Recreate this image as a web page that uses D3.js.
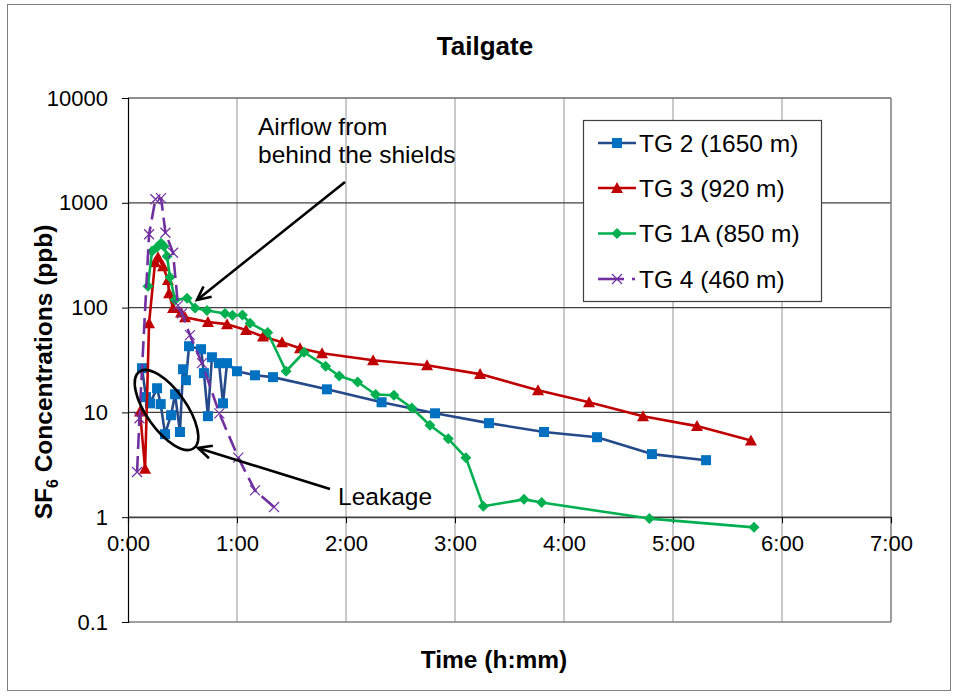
<!DOCTYPE html>
<html>
<head>
<meta charset="utf-8">
<script src="https://cdn.jsdelivr.net/npm/d3@7"></script>
<style>
  body { margin: 0; background: #fff; }
  svg { display: block; font-family: "Liberation Sans", Arial, sans-serif; }
</style>
</head>
<body>
<svg id="chart" width="956" height="696"></svg>
<script>
// ---- Data (time in minutes, concentration in ppb) ----
const tg2Time = [7.7, 9.9, 12.1, 16.0, 18.0, 20.4, 23.7, 25.9, 28.6, 30.3, 31.9, 33.6, 40.2, 41.8, 44.0, 46.2, 50.1, 52.3, 54.5, 60.0, 69.9, 79.8, 109.5, 139.6, 169.0, 198.7, 229.0, 258.2, 288.4, 318.2];
const tg2Value = [26.4, 14.0, 12.2, 17.0, 12.0, 6.2, 9.4, 14.9, 6.5, 25.8, 20.3, 42.8, 40.1, 23.7, 9.2, 33.6, 29.5, 12.2, 29.5, 24.7, 22.6, 21.7, 16.6, 12.5, 9.8, 7.9, 6.5, 5.8, 4.0, 3.5];

const tg3Time = [6.6, 9.4, 11.6, 14.9, 16.5, 19.3, 22.0, 22.6, 24.8, 29.2, 31.4, 44.0, 54.5, 65.0, 74.3, 84.8, 94.7, 106.8, 134.9, 164.6, 193.8, 225.7, 253.8, 283.5, 313.2, 342.9];
const tg3Value = [10.2, 2.9, 71, 271, 303, 248, 183, 137, 99, 90, 81, 73, 69.5, 61, 53, 46.8, 41, 36.7, 31.5, 28.2, 23.2, 16.3, 12.5, 9.2, 7.4, 5.4];

const tg1aTime = [11.0, 13.2, 16.0, 18.2, 19.8, 21.5, 23.1, 25.9, 32.5, 36.9, 43.5, 53.4, 57.5, 63.0, 67.2, 76.9, 87.0, 96.9, 108.8, 116.3, 126.4, 136.3, 146.4, 156.2, 166.2, 176.3, 186.0, 195.6, 218.0, 227.7, 287.0, 344.6];
const tg1aValue = [160, 345, 377, 412, 385, 309, 195, 118, 123, 99, 94, 88, 84.5, 85, 71, 57.8, 24.7, 37.5, 27.6, 22.2, 19.5, 14.8, 14.6, 11.0, 7.55, 5.6, 3.7, 1.27, 1.48, 1.38, 0.97, 0.80];

const tg4Time = [5.0, 6.3, 11.6, 15.1, 18.2, 20.6, 24.8, 27.5, 29.7, 34.1, 40.7, 50.3, 60.7, 69.9, 80.4];
const tg4Value = [2.7, 8.8, 501, 1082, 1107, 518, 334, 105, 88, 54.6, 29.5, 9.8, 3.7, 1.8, 1.25];

const seriesNames = ["TG 2 (1650 m)", "TG 3 (920 m)", "TG 1A (850 m)", "TG 4 (460 m)"];
const xTickValues = [0, 60, 120, 180, 240, 300, 360, 420];
const xTickLabels = ["0:00", "1:00", "2:00", "3:00", "4:00", "5:00", "6:00", "7:00"];
const yTickValues = [0.1, 1, 10, 100, 1000, 10000];
const yTickLabels = ["0.1", "1", "10", "100", "1000", "10000"];

// ---- Layout ----
const svg = d3.select("#chart");
const L = 128, R = 891, T = 98, B = 622;

const x = d3.scaleLinear().domain([0, 420]).range([L, R]);
const y = d3.scaleLog().domain([0.1, 10000]).range([B, T]);

// outer border
svg.append("rect").attr("x", 7.5).attr("y", 4.5).attr("width", 943).attr("height", 686)
  .attr("fill", "#fff").attr("stroke", "#7f7f7f").attr("stroke-width", 1);

// vertical gridlines
svg.append("g").selectAll("line").data(xTickValues.slice(1)).join("line")
  .attr("x1", d => x(d)).attr("x2", d => x(d)).attr("y1", T).attr("y2", B)
  .attr("stroke", "#a6a6a6").attr("stroke-width", 1.2);

// horizontal gridlines
svg.append("g").selectAll("line").data(yTickValues.slice(1)).join("line")
  .attr("x1", L).attr("x2", R).attr("y1", d => y(d)).attr("y2", d => y(d))
  .attr("stroke", "#404040").attr("stroke-width", 1.2);

// plot area frame
svg.append("line").attr("x1", L).attr("x2", R).attr("y1", B).attr("y2", B).attr("stroke", "#808080").attr("stroke-width", 1.5);
svg.append("line").attr("x1", R).attr("x2", R).attr("y1", T).attr("y2", B).attr("stroke", "#808080").attr("stroke-width", 1.2);
svg.append("line").attr("x1", L).attr("x2", R).attr("y1", T).attr("y2", T).attr("stroke", "#808080").attr("stroke-width", 1.2);

// y axis
const yAxis = d3.axisLeft(y).tickValues(yTickValues).tickFormat((d, i) => yTickLabels[i]).tickSize(6).tickPadding(14);
const gy = svg.append("g").attr("transform", `translate(${L},0)`).call(yAxis);
gy.select(".domain").attr("stroke", "#000").attr("stroke-width", 1.2);
gy.selectAll(".tick line").attr("stroke", "#000");
gy.selectAll("text").attr("font-size", 22).attr("fill", "#000").attr("font-family", "Liberation Sans, Arial, sans-serif");

// x axis crossing at y = 1
const xAxis = d3.axisBottom(x).tickValues(xTickValues).tickFormat((d, i) => xTickLabels[i]).tickSize(6).tickPadding(12);
const gx = svg.append("g").attr("transform", `translate(0,${y(1)})`).call(xAxis);
gx.select(".domain").attr("stroke", "#404040").attr("stroke-width", 1.2);
gx.selectAll(".tick line").attr("stroke", "#000");
gx.selectAll("text").attr("font-size", 22).attr("fill", "#000").attr("font-family", "Liberation Sans, Arial, sans-serif");

// ---- Series ----
function makeData(t, v) { return t.map((d, i) => ({ t: d, v: v[i] })); }
const line = d3.line().x(d => x(d.t)).y(d => y(d.v));

const series = [
  { name: seriesNames[0], data: makeData(tg2Time, tg2Value), line: "#254A8A", marker: "#0070C0", shape: "square", dash: null },
  { name: seriesNames[1], data: makeData(tg3Time, tg3Value), line: "#C00000", marker: "#C00000", shape: "triangle", dash: null },
  { name: seriesNames[2], data: makeData(tg1aTime, tg1aValue), line: "#00B050", marker: "#00B050", shape: "diamond", dash: null },
  { name: seriesNames[3], data: makeData(tg4Time, tg4Value), line: "#7030A0", marker: "#7030A0", shape: "x", dash: "16,7" }
];

function drawMarker(g, shape, color, cx, cy) {
  if (shape === "square") {
    g.append("rect").attr("x", cx - 5).attr("y", cy - 5).attr("width", 10).attr("height", 10).attr("fill", color);
  } else if (shape === "triangle") {
    g.append("path").attr("d", `M${cx},${cy - 6}L${cx + 6},${cy + 5}L${cx - 6},${cy + 5}Z`).attr("fill", color);
  } else if (shape === "diamond") {
    g.append("path").attr("d", `M${cx},${cy - 5.5}L${cx + 5.5},${cy}L${cx},${cy + 5.5}L${cx - 5.5},${cy}Z`).attr("fill", color);
  } else if (shape === "x") {
    g.append("path").attr("d", `M${cx - 5},${cy - 5}L${cx + 5},${cy + 5}M${cx - 5},${cy + 5}L${cx + 5},${cy - 5}`)
      .attr("stroke", color).attr("stroke-width", 1.2).attr("fill", "none");
  }
}

series.forEach(s => {
  const g = svg.append("g");
  g.append("path").datum(s.data).attr("d", line).attr("fill", "none")
    .attr("stroke", s.line).attr("stroke-width", 2.6)
    .attr("stroke-dasharray", s.dash).attr("stroke-linejoin", "round");
  s.data.forEach(d => drawMarker(g, s.shape, s.marker, x(d.t), y(d.v)));
});

// ---- Legend ----
const lg = svg.append("g");
lg.append("rect").attr("x", 583.5).attr("y", 120.5).attr("width", 238).attr("height", 181)
  .attr("fill", "#fff").attr("stroke", "#404040").attr("stroke-width", 1.2);
const legendY = [143, 188, 233.5, 279];
series.forEach((s, i) => {
  const yy = legendY[i];
  if (s.dash) {
    lg.append("line").attr("x1", 598).attr("x2", 624).attr("y1", yy).attr("y2", yy)
      .attr("stroke", s.line).attr("stroke-width", 2.6);
    lg.append("line").attr("x1", 632).attr("x2", 635).attr("y1", yy).attr("y2", yy)
      .attr("stroke", s.line).attr("stroke-width", 2.6);
  } else {
    lg.append("line").attr("x1", 598).attr("x2", 636).attr("y1", yy).attr("y2", yy)
      .attr("stroke", s.line).attr("stroke-width", 2.6);
  }
  drawMarker(lg, s.shape, s.marker, 617, yy);
  lg.append("text").attr("x", 639).attr("y", yy).attr("dy", "0.35em")
    .attr("font-size", 24.5).attr("fill", "#000").text(s.name);
});

// ---- Titles ----
svg.append("text").attr("x", 485).attr("y", 55).attr("text-anchor", "middle")
  .attr("font-size", 26).attr("font-weight", "bold").text("Tailgate");
svg.append("text").attr("x", 494).attr("y", 668).attr("text-anchor", "middle")
  .attr("font-size", 24.5).attr("font-weight", "bold").text("Time (h:mm)");
const yt = svg.append("text").attr("transform", "translate(52,372) rotate(-90)").attr("text-anchor", "middle")
  .attr("font-size", 24.5).attr("font-weight", "bold");
yt.append("tspan").text("SF");
yt.append("tspan").attr("font-size", 16).attr("dy", 6).text("6");
yt.append("tspan").attr("dy", -6).text(" Concentrations (ppb)");

// ---- Annotations ----
svg.append("text").attr("x", 258).attr("y", 135).attr("font-size", 24.5).text("Airflow from");
svg.append("text").attr("x", 258).attr("y", 163).attr("font-size", 24.5).text("behind the shields");
svg.append("text").attr("x", 338).attr("y", 505).attr("font-size", 24.5).text("Leakage");

function arrow(x1, y1, x2, y2) {
  const ang = Math.atan2(y2 - y1, x2 - x1);
  const len = 15, spread = 0.45;
  svg.append("line").attr("x1", x1).attr("y1", y1).attr("x2", x2).attr("y2", y2)
    .attr("stroke", "#000").attr("stroke-width", 2.6);
  const p1 = [x2 - len * Math.cos(ang - spread), y2 - len * Math.sin(ang - spread)];
  const p2 = [x2 - len * Math.cos(ang + spread), y2 - len * Math.sin(ang + spread)];
  svg.append("path").attr("d", `M${p1[0]},${p1[1]}L${x2},${y2}L${p2[0]},${p2[1]}`)
    .attr("fill", "none").attr("stroke", "#000").attr("stroke-width", 2.6).attr("stroke-linejoin", "miter");
}
arrow(345, 182, 197, 300);
arrow(330, 489, 198, 448);

svg.append("ellipse").attr("cx", 0).attr("cy", 0).attr("rx", 47).attr("ry", 20)
  .attr("transform", "translate(166.5,410) rotate(54.6)")
  .attr("fill", "none").attr("stroke", "#000").attr("stroke-width", 2.6);
</script>
</body>
</html>
